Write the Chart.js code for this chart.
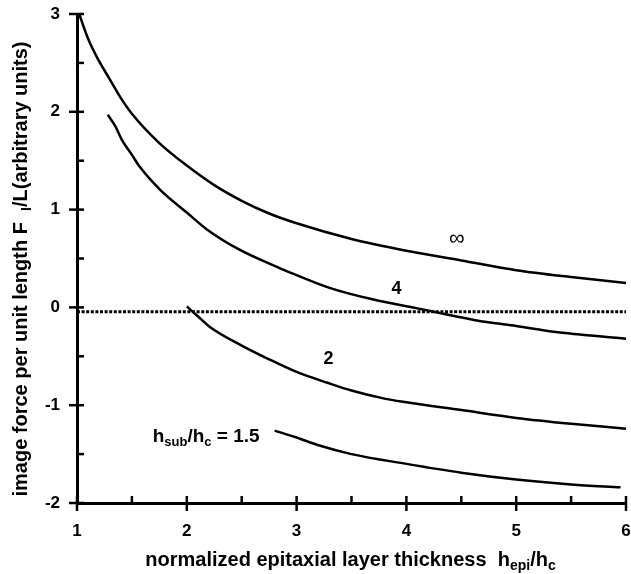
<!DOCTYPE html>
<html>
<head>
<meta charset="utf-8">
<script src="https://cdn.jsdelivr.net/npm/chart.js@4/dist/chart.umd.min.js"></script>
<style>
  html, body { margin: 0; padding: 0; background: #fff; }
  canvas { display: block; }
</style>
</head>
<body>
<canvas id="chart" width="631" height="574"></canvas>
<script>
// image force curves, one per h_sub/h_c value
const infX = [1.02, 1.1, 1.2, 1.3, 1.4, 1.5, 1.75, 2.0, 2.25, 2.5, 2.75, 3.0, 3.5, 4.0, 4.5, 5.0, 5.5, 6.0];
const infY = [3.0, 2.75, 2.52, 2.33, 2.14, 1.98, 1.68, 1.45, 1.25, 1.09, 0.96, 0.86, 0.70, 0.58, 0.48, 0.38, 0.31, 0.25];

const h4X = [1.28, 1.35, 1.41, 1.5, 1.57, 1.76, 2.0, 2.18, 2.48, 2.85, 3.0, 3.3, 3.7, 4.1, 4.4, 4.73, 5.0, 5.34, 6.0];
const h4Y = [1.97, 1.85, 1.71, 1.56, 1.44, 1.20, 0.97, 0.80, 0.59, 0.40, 0.33, 0.20, 0.08, -0.01, -0.08, -0.15, -0.19, -0.25, -0.32];

const h2X = [2.0, 2.1, 2.21, 2.5, 2.73, 3.0, 3.28, 3.5, 3.79, 4.0, 4.5, 5.0, 5.5, 6.0];
const h2Y = [0.01, -0.09, -0.20, -0.39, -0.52, -0.66, -0.77, -0.85, -0.93, -0.97, -1.05, -1.13, -1.19, -1.24];

const h15X = [2.8, 3.0, 3.2, 3.5, 4.0, 4.5, 5.0, 5.5, 5.95];
const h15Y = [-1.26, -1.33, -1.41, -1.50, -1.60, -1.69, -1.76, -1.81, -1.84];

// dotted reference line
const refX = [1, 6];
const refY = [-0.045, -0.045];

// curve labels (data units)
const labelX = [4.46, 3.91, 3.29, 1.69];
const labelY = [0.70, 0.19, -0.53, -1.305];

const xTicks = [1, 2, 3, 4, 5, 6];
const yTicks = [-2, -1, 0, 1, 2, 3];

const FONT = 'Arial, "Liberation Sans", sans-serif';

function pts(xs, ys) {
    return xs.map((x, i) => ({ x: x, y: ys[i] }));
}

function curve(xs, ys) {
    return {
        data: pts(xs, ys),
        borderColor: '#000',
        borderWidth: 2.5,
        pointRadius: 0,
        cubicInterpolationMode: 'monotone',
        clip: false
    };
}

// text with subscripts: parts = [[text, isSub], ...]
function drawRich(ctx, parts, x, y, size, align) {
    const subSize = Math.round(size * 0.7);
    let total = 0;
    parts.forEach(p => {
        ctx.font = 'bold ' + (p[1] ? subSize : size) + 'px ' + FONT;
        total += ctx.measureText(p[0]).width;
    });
    let cx = align === 'center' ? x - total / 2 : x;
    ctx.textAlign = 'left';
    ctx.textBaseline = 'alphabetic';
    parts.forEach(p => {
        ctx.font = 'bold ' + (p[1] ? subSize : size) + 'px ' + FONT;
        ctx.fillText(p[0], cx, p[1] ? y + size * 0.22 : y);
        cx += ctx.measureText(p[0]).width;
    });
}

const decorPlugin = {
    id: 'decor',
    afterDatasetsDraw(chart) {
        const ctx = chart.ctx;
        const xs = chart.scales.x, ys = chart.scales.y;
        const a = chart.chartArea;
        ctx.save();
        ctx.strokeStyle = '#000';
        ctx.fillStyle = '#000';
        ctx.lineWidth = 2.5;

        // tick marks: majors cross the axis, minors point inward
        for (let v = -2; v <= 3; v += 0.5) {
            const p = ys.getPixelForValue(v);
            ctx.beginPath();
            if (Number.isInteger(v)) { ctx.moveTo(a.left - 8, p); ctx.lineTo(a.left + 7, p); }
            else { ctx.moveTo(a.left, p); ctx.lineTo(a.left + 7, p); }
            ctx.stroke();
        }
        for (let v = 1; v <= 6; v += 0.5) {
            const p = xs.getPixelForValue(v);
            ctx.beginPath();
            if (Number.isInteger(v)) { ctx.moveTo(p, a.bottom - 7); ctx.lineTo(p, a.bottom + 8); }
            else { ctx.moveTo(p, a.bottom - 7); ctx.lineTo(p, a.bottom); }
            ctx.stroke();
        }

        // curve labels
        ctx.textBaseline = 'middle';
        ctx.textAlign = 'center';
        ctx.font = '22px ' + FONT;
        ctx.fillText('\u221E', xs.getPixelForValue(labelX[0]), ys.getPixelForValue(labelY[0]));
        ctx.font = 'bold 18px ' + FONT;
        ctx.fillText('4', xs.getPixelForValue(labelX[1]), ys.getPixelForValue(labelY[1]));
        ctx.fillText('2', xs.getPixelForValue(labelX[2]), ys.getPixelForValue(labelY[2]));
        drawRich(ctx, [['h', false], ['sub', true], ['/h', false], ['c', true], [' = 1.5', false]],
            xs.getPixelForValue(labelX[3]), ys.getPixelForValue(labelY[3]) + 7, 19, 'left');

        // axis titles
        drawRich(ctx, [['normalized epitaxial layer thickness  h', false], ['epi', true], ['/h', false], ['c', true]],
            (a.left + a.right) / 2 - 1, 566, 20, 'center');
        ctx.translate(27, 269);
        ctx.rotate(-Math.PI / 2);
        drawRich(ctx, [['image force per unit length F  ', false], ['I', true], ['/L(arbitrary units)', false]],
            0, 0, 20, 'center');
        ctx.restore();
    }
};

new Chart(document.getElementById('chart'), {
    type: 'line',
    data: {
        datasets: [
            curve(infX, infY),
            curve(h4X, h4Y),
            curve(h2X, h2Y),
            curve(h15X, h15Y),
            {
                data: pts(refX, refY),
                borderColor: '#000',
                borderWidth: 3,
                borderDash: [3, 1.6],
                pointRadius: 0,
                clip: false
            }
        ]
    },
    options: {
        responsive: false,
        animation: false,
        layout: { padding: { left: 0, top: 14, right: 5, bottom: 0 } },
        plugins: { legend: { display: false }, tooltip: { enabled: false } },
        scales: {
            x: {
                type: 'linear',
                min: 1, max: 6,
                afterFit: s => { s.height = 71; s.paddingLeft = 0; s.paddingRight = 0; },
                afterBuildTicks: s => { s.ticks = xTicks.map(v => ({ value: v })); },
                grid: { display: false },
                border: { display: true, color: '#000', width: 3 },
                ticks: { color: '#000', padding: 10, font: { family: FONT, size: 17, weight: 'bold' } }
            },
            y: {
                type: 'linear',
                min: -2, max: 3,
                afterFit: s => { s.width = 77; s.paddingTop = 0; s.paddingBottom = 0; },
                afterBuildTicks: s => { s.ticks = yTicks.map(v => ({ value: v })); },
                grid: { display: false },
                border: { display: true, color: '#000', width: 3 },
                ticks: { color: '#000', padding: 9, font: { family: FONT, size: 17, weight: 'bold' } }
            }
        }
    },
    plugins: [decorPlugin]
});
</script>
</body>
</html>
